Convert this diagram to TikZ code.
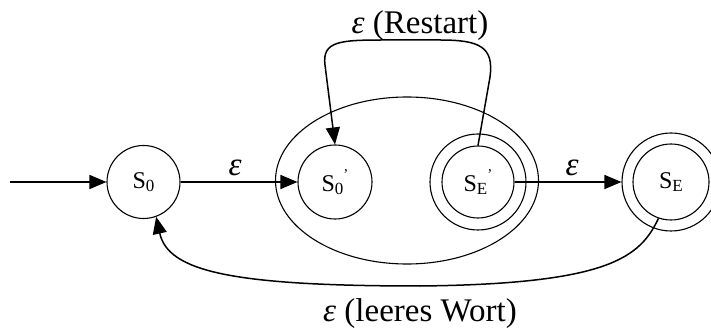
\documentclass[tikz,border=0pt]{standalone}
\usepackage{fontspec}
\setmainfont{Liberation Serif}
\usetikzlibrary{arrows.meta,shapes.geometric}
\newcommand{\eps}{{\itshape ε}}
\newcommand{\lowidx}[1]{\raisebox{-3pt}{\fontsize{17}{17}\selectfont #1}}
\newcommand{\primemark}{\raisebox{12pt}{\fontsize{15}{15}\selectfont ’}}
\begin{document}
\begin{tikzpicture}[x=1pt,y=1pt,
  state/.style={circle,draw,line width=1.1pt,inner sep=0pt,font=\fontsize{24}{26}\selectfont},
  ring/.style={circle,draw,line width=1.1pt,inner sep=0pt},
  arr/.style={line width=1.5pt,-{Triangle[length=17pt,width=14pt]}},
  lbl/.style={font=\fontsize{33}{36}\selectfont,inner sep=0pt}]
\useasboundingbox (0,0) rectangle (711,329);
\node[draw,ellipse,line width=1.1pt,minimum width=263pt,minimum height=167pt,inner sep=0pt] (grp) at (407,148.5) {};
\node[state,minimum size=73pt] (s0) at (143.5,147) {S\lowidx{0}};
\node[state,minimum size=74pt] (s0p) at (335,147) {S\lowidx{0}\primemark};
\node[state,minimum size=72pt] (sep) at (478,147) {S\lowidx{E}\primemark};
\node[ring,minimum size=96pt] (sepo) at (478,147) {};
\node[state,minimum size=76pt] (se) at (671,147) {S\lowidx{E}};
\node[ring,minimum size=98pt] (seo) at (671,147) {};
\coordinate (init) at (10,147);
\draw[arr] (init) -- (s0.west);
\draw[arr] (s0.east) -- (s0p.west);
\draw[arr] (sep.east) -- (seo.west);
\draw[arr] (sep.north) -- (490,252) .. controls (494,282) and (480,289) .. (440,289)
   -- (385,289) .. controls (340,289) and (322,288) .. (325,264) -- (s0p.north);
\draw[arr] (se.251) .. controls (640,72) and (610,45) .. (420,43)
   .. controls (230,43) and (168,58) .. (s0.290);
\node[lbl] (e1) at (235,161) {\eps};
\node[lbl] (e2) at (572,161) {\eps};
\node[lbl] (lr) at (420,303) {\eps\ (Restart)};
\node[lbl] (lw) at (420,15) {\eps\ (leeres Wort)};
\end{tikzpicture}
\end{document}
